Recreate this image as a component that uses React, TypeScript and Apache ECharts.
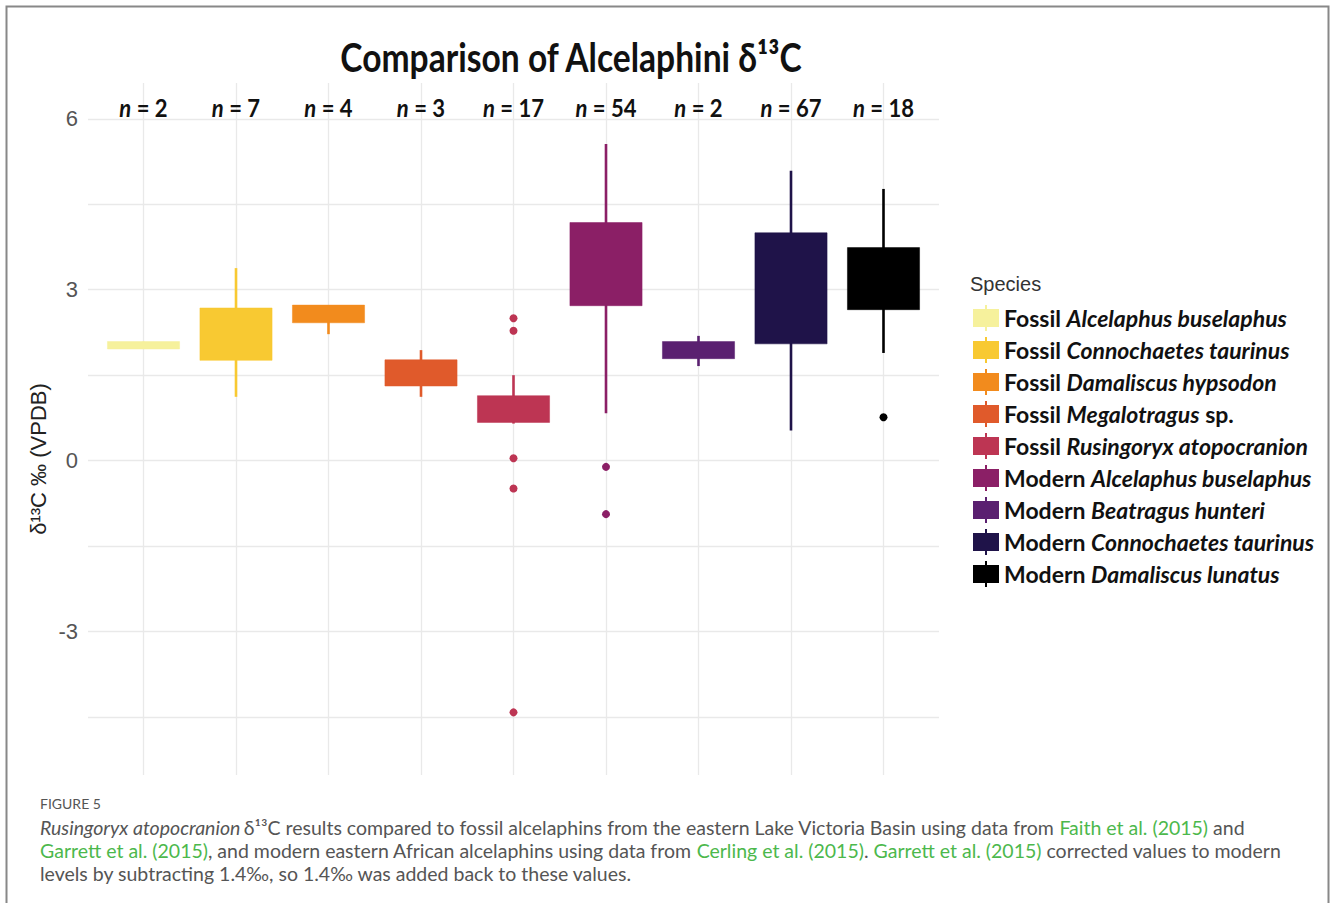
import React, { useEffect, useRef } from "react";
import * as echarts from "echarts";

// ---------- data ----------
const groupLabels = ["Fossil", "Fossil", "Fossil", "Fossil", "Fossil", "Modern", "Modern", "Modern", "Modern"];
const taxonNames = [
  "Alcelaphus buselaphus",
  "Connochaetes taurinus",
  "Damaliscus hypsodon",
  "Megalotragus",
  "Rusingoryx atopocranion",
  "Alcelaphus buselaphus",
  "Beatragus hunteri",
  "Connochaetes taurinus",
  "Damaliscus lunatus",
];
const taxonSuffix = ["", "", "", " sp.", "", "", "", "", ""];
const categories = groupLabels.map((g, i) => `${g} ${taxonNames[i]}${taxonSuffix[i]}`);
const sampleSizes = [2, 7, 4, 3, 17, 54, 2, 67, 18];
const whiskerLow = [1.96, 1.12, 2.22, 1.12, 0.65, 0.83, 1.66, 0.53, 1.89];
const quartile1 = [1.96, 1.76, 2.42, 1.31, 0.67, 2.72, 1.79, 2.05, 2.65];
const quartile3 = [2.09, 2.68, 2.73, 1.77, 1.14, 4.18, 2.09, 4.0, 3.74];
const whiskerHigh = [2.09, 3.38, 2.73, 1.94, 1.5, 5.56, 2.19, 5.09, 4.77];
const outlierGroup = [4, 4, 4, 4, 4, 5, 5, 8];
const outlierValues = [2.5, 2.28, 0.04, -0.49, -4.42, -0.11, -0.94, 0.76];
const speciesColors = ["#f6f19c", "#f8c932", "#f28b1d", "#e05a2b", "#bd3553", "#8b1f66", "#5a2070", "#1f1349", "#000000"];
const yTickValues = [-3, 0, 3, 6];
const yGridValues = [-4.5, -3, -1.5, 0, 1.5, 3, 4.5, 6];

const BOX_HALF = 0.39;
const N_LABEL_Y = 6.19;

export default function App() {
  const ref = useRef<HTMLDivElement>(null);

  useEffect(() => {
    if (!ref.current) return;
    const chart = echarts.init(ref.current, undefined, { renderer: "svg" });

    const boxSeries = categories.map((name, i) => ({
      name,
      type: "custom",
      z: 3,
      itemStyle: { color: speciesColors[i] },
      encode: { x: 0, y: [1, 2, 3, 4] },
      data: [[i, whiskerLow[i], quartile1[i], quartile3[i], whiskerHigh[i]]],
      renderItem: (params: any, api: any) => {
        const x = api.value(0);
        const pLow = api.coord([x, api.value(1)]);
        const pHigh = api.coord([x, api.value(4)]);
        const pA = api.coord([x - BOX_HALF, api.value(2)]);
        const pB = api.coord([x + BOX_HALF, api.value(3)]);
        const color = api.visual("color");
        return {
          type: "group",
          children: [
            {
              type: "line",
              shape: { x1: pLow[0], y1: pLow[1], x2: pHigh[0], y2: pHigh[1] },
              style: { stroke: color, lineWidth: 2.6 },
            },
            {
              type: "rect",
              shape: { x: pA[0], y: pB[1], width: pB[0] - pA[0], height: Math.max(pA[1] - pB[1], 1) },
              style: { fill: color, stroke: color, lineWidth: 0.5 },
            },
          ],
        };
      },
    }));

    const legendRich = {
      b: { fontFamily: "Lato", fontSize: 23, fontWeight: "bold", color: "#111111", lineHeight: 26 },
      i: { fontFamily: "Lato", fontSize: 23, fontWeight: "bold", fontStyle: "italic", color: "#111111", lineHeight: 26 },
    };

    const captionRich = {
      t: { fontFamily: "Lato", fontSize: 19.5, fill: "#555555" },
      it: { fontFamily: "Lato", fontSize: 19.5, fontStyle: "italic", fill: "#555555" },
      g: { fontFamily: "Lato", fontSize: 19.5, fill: "#4cb84c" },
    };

    const option: any = {
      animation: false,
      backgroundColor: "#ffffff",
      grid: { left: 88, right: 391, top: 83, bottom: 128 },
      xAxis: {
        type: "value",
        min: -0.6,
        max: 8.6,
        axisLine: { show: false },
        axisTick: { show: false },
        axisLabel: { show: false },
        splitLine: { show: false },
      },
      yAxis: {
        type: "value",
        min: -5.52,
        max: 6.63,
        axisLine: { show: false },
        axisTick: { show: false },
        splitLine: { show: false },
        axisLabel: {
          customValues: yTickValues,
          color: "#555555",
          fontFamily: "Liberation Sans",
          fontSize: 22,
          margin: 10,
        },
      },
      legend: {
        orient: "vertical",
        left: 973,
        top: 305,
        padding: 0,
        itemWidth: 26,
        itemHeight: 26,
        itemGap: 6,
        selectedMode: false,
        icon: "path://M0,4H26V22H0Z M12,0H14V26H12Z",
        data: categories,
        formatter: (name: string) => {
          const i = categories.indexOf(name);
          const suffix = taxonSuffix[i] ? `{b|${taxonSuffix[i]}}` : "";
          return `{b|${groupLabels[i]} }{i|${taxonNames[i]}}${suffix}`;
        },
        textStyle: {
          fontFamily: "Lato",
          fontSize: 23,
          fontWeight: "bold",
          color: "#111111",
          rich: legendRich,
        },
      },
      series: [
        {
          name: "grid",
          type: "line",
          data: [],
          z: 0,
          silent: true,
          markLine: {
            z: 0,
            silent: true,
            symbol: "none",
            label: { show: false },
            lineStyle: { color: "#e9e9e9", type: "solid", width: 1.3 },
            data: [
              ...yGridValues.map((v) => ({ yAxis: v })),
              ...categories.map((_, i) => ({ xAxis: i })),
            ],
          },
        },
        ...boxSeries,
        {
          name: "outliers",
          type: "scatter",
          z: 4,
          symbol: "circle",
          symbolSize: 8,
          data: outlierGroup.map((g, i) => ({
            value: [g, outlierValues[i]],
            itemStyle: { color: speciesColors[g], opacity: 1 },
          })),
        },
        {
          name: "counts",
          type: "custom",
          z: 5,
          data: sampleSizes.map((n, i) => [i, N_LABEL_Y, n]),
          renderItem: (params: any, api: any) => {
            const p = api.coord([api.value(0), api.value(1)]);
            return {
              type: "text",
              x: p[0],
              y: p[1],
              scaleX: 0.92,
              style: {
                text: `{i|n}{b| = ${api.value(2)}}`,
                align: "center",
                verticalAlign: "middle",
                rich: {
                  i: { fontFamily: "Lato", fontSize: 24, fontWeight: "bold", fontStyle: "italic", fill: "#111111" },
                  b: { fontFamily: "Lato", fontSize: 24, fontWeight: "bold", fill: "#111111" },
                },
              },
            };
          },
        },
      ],
      graphic: [
        {
          type: "rect",
          shape: { x: 6.5, y: 6.5, width: 1322, height: 1000 },
          style: { fill: "none", stroke: "#888888", lineWidth: 2 },
          silent: true,
        },
        {
          type: "text",
          x: 571,
          y: 57,
          scaleX: 0.84,
          style: {
            text: "Comparison of Alcelaphini δ¹³C",
            font: "bold 40px Lato",
            fill: "#111111",
            align: "center",
            verticalAlign: "middle",
          },
        },
        {
          type: "text",
          x: 38,
          y: 459,
          rotation: Math.PI / 2,
          style: {
            text: "δ¹³C ‰ (VPDB)",
            font: "22px 'Liberation Sans'",
            fill: "#222222",
            align: "center",
            verticalAlign: "middle",
          },
        },
        {
          type: "text",
          x: 970,
          y: 284,
          style: {
            text: "Species",
            font: "20px 'Liberation Sans'",
            fill: "#333333",
            align: "left",
            verticalAlign: "middle",
          },
        },
        {
          type: "text",
          x: 40,
          y: 803,
          style: {
            text: "FIGURE 5",
            font: "14px Lato",
            fill: "#555555",
            align: "left",
            verticalAlign: "middle",
          },
        },
        {
          type: "text",
          x: 40,
          y: 827,
          style: {
            text:
              "{it|Rusingoryx atopocranion} {t|δ¹³C results compared to fossil alcelaphins from the eastern Lake Victoria Basin using data from }{g|Faith et al. (2015)}{t| and}",
            align: "left",
            verticalAlign: "middle",
            rich: captionRich,
          },
        },
        {
          type: "text",
          x: 40,
          y: 850,
          style: {
            text:
              "{g|Garrett et al. (2015)}{t|, and modern eastern African alcelaphins using data from }{g|Cerling et al. (2015)}{t|. }{g|Garrett et al. (2015)}{t| corrected values to modern}",
            align: "left",
            verticalAlign: "middle",
            rich: captionRich,
          },
        },
        {
          type: "text",
          x: 40,
          y: 873,
          style: {
            text: "levels by subtracting 1.4‰, so 1.4‰ was added back to these values.",
            font: "19.5px Lato",
            fill: "#555555",
            align: "left",
            verticalAlign: "middle",
          },
        },
      ],
    };

    chart.setOption(option);
    return () => chart.dispose();
  }, []);

  return (
    <div
      ref={ref}
      style={{ position: "absolute", left: 0, top: 0, width: 1330, height: 903, background: "#fff" }}
    />
  );
}
